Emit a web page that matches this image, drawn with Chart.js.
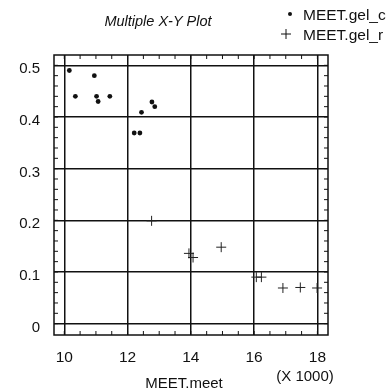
<!DOCTYPE html>
<html>
<head>
<meta charset="utf-8">
<script src="https://cdn.jsdelivr.net/npm/chart.js@4.4.0/dist/chart.umd.min.js"></script>
<style>
  html, body { margin: 0; padding: 0; background: #fff; }
  #wrap { width: 390px; height: 390px; }
</style>
</head>
<body>
<div id="wrap"><canvas id="myChart" width="390" height="390"></canvas></div>
<script>
// MEET.gel_c (dots)
const gelCx = [10160, 10950, 10350, 11020, 11070, 11440, 12770, 12860, 12440, 12210, 12390];
const gelCy = [0.490, 0.480, 0.440, 0.440, 0.430, 0.440, 0.429, 0.420, 0.409, 0.369, 0.369];

// MEET.gel_r (crosses)
const gelRx = [12760, 13940, 14070, 14960, 16070, 16230, 16910, 17460, 17990];
const gelRy = [0.199, 0.136, 0.128, 0.148, 0.090, 0.090, 0.069, 0.070, 0.069];

const xTicks = [10000, 12000, 14000, 16000, 18000];
const yTicks = [0, 0.1, 0.2, 0.3, 0.4, 0.5];

const fontName = "'Liberation Sans', Arial, sans-serif";

function toPoints(xs, ys) {
  const pts = [];
  for (let i = 0; i < xs.length; i++) {
    pts.push({ x: xs[i], y: ys[i] });
  }
  return pts;
}

// frame, minor ticks, title, legend and axis captions
const decor = {
  id: "decor",
  afterDraw(chart) {
    const ctx = chart.ctx;
    const a = chart.chartArea;
    const sx = chart.scales.x;
    const sy = chart.scales.y;
    ctx.save();
    ctx.strokeStyle = "#111";
    ctx.lineWidth = 1.5;
    ctx.strokeRect(a.left, a.top, a.right - a.left, a.bottom - a.top);

    ctx.lineWidth = 1;
    ctx.beginPath();
    for (let v = 9500; v <= 18500; v += 500) {
      const px = sx.getPixelForValue(v);
      if (px <= a.left + 1 || px >= a.right - 1) continue;
      ctx.moveTo(px, a.bottom); ctx.lineTo(px, a.bottom - 4);
      ctx.moveTo(px, a.top); ctx.lineTo(px, a.top + 4);
    }
    for (let v = 0; v <= 0.52; v += 0.02) {
      const py = sy.getPixelForValue(v);
      if (py <= a.top + 1 || py >= a.bottom - 1) continue;
      ctx.moveTo(a.left, py); ctx.lineTo(a.left + 4, py);
      ctx.moveTo(a.right, py); ctx.lineTo(a.right - 4, py);
    }
    ctx.stroke();

    ctx.fillStyle = "#111";
    ctx.textBaseline = "middle";
    ctx.textAlign = "center";
    ctx.font = "italic 14.5px " + fontName;
    ctx.fillText("Multiple X-Y Plot", 158, 22);

    ctx.font = "15px " + fontName;
    ctx.fillText("MEET.meet", 184, 384);
    ctx.fillText("(X 1000)", 305, 377);

    // legend
    ctx.font = "15.5px " + fontName;
    ctx.textAlign = "left";
    ctx.fillText("MEET.gel_c", 303, 16);
    ctx.fillText("MEET.gel_r", 303, 36);
    ctx.beginPath();
    ctx.arc(290, 14, 2, 0, Math.PI * 2);
    ctx.fill();
    ctx.beginPath();
    ctx.moveTo(281, 34); ctx.lineTo(291, 34);
    ctx.moveTo(286, 29); ctx.lineTo(286, 39);
    ctx.stroke();
    ctx.restore();
  }
};

const data = {
  datasets: [
    {
      label: "MEET.gel_c",
      data: toPoints(gelCx, gelCy),
      pointStyle: "circle",
      pointRadius: 2.4,
      backgroundColor: "#111",
      borderColor: "#111",
      borderWidth: 0,
    },
    {
      label: "MEET.gel_r",
      data: toPoints(gelRx, gelRy),
      pointStyle: "cross",
      pointRadius: 5,
      borderColor: "#222",
      borderWidth: 1,
    },
  ],
};

const config = {
  type: "scatter",
  data: data,
  options: {
    responsive: false,
    animation: false,
    layout: { padding: { top: 55, right: 62, left: 0, bottom: 0 } },
    plugins: {
      legend: { display: false },
      title: { display: false },
      tooltip: { enabled: false },
    },
    scales: {
      x: {
        type: "linear",
        min: 9675,
        max: 18335,
        afterBuildTicks: (s) => { s.ticks = xTicks.map((v) => ({ value: v })); },
        afterFit: (s) => { s.height = 55; },
        grid: { color: "#111", lineWidth: 1.5, drawTicks: false },
        border: { display: false },
        ticks: {
          color: "#111",
          padding: 13,
          font: { family: fontName, size: 15.5 },
          callback: (v) => String(v / 1000),
        },
      },
      y: {
        type: "linear",
        min: -0.022,
        max: 0.52,
        afterBuildTicks: (s) => { s.ticks = yTicks.map((v) => ({ value: v })); },
        afterFit: (s) => { s.width = 54; },
        grid: { color: "#111", lineWidth: 1.5, drawTicks: false },
        border: { display: false },
        ticks: {
          color: "#111",
          padding: 14,
          labelOffset: 4,
          font: { family: fontName, size: 15 },
          callback: (v) => (v === 0 ? "0" : v.toFixed(1)),
        },
      },
    },
  },
  plugins: [decor],
};

const myChart = new Chart(document.getElementById("myChart"), config);
</script>
</body>
</html>
